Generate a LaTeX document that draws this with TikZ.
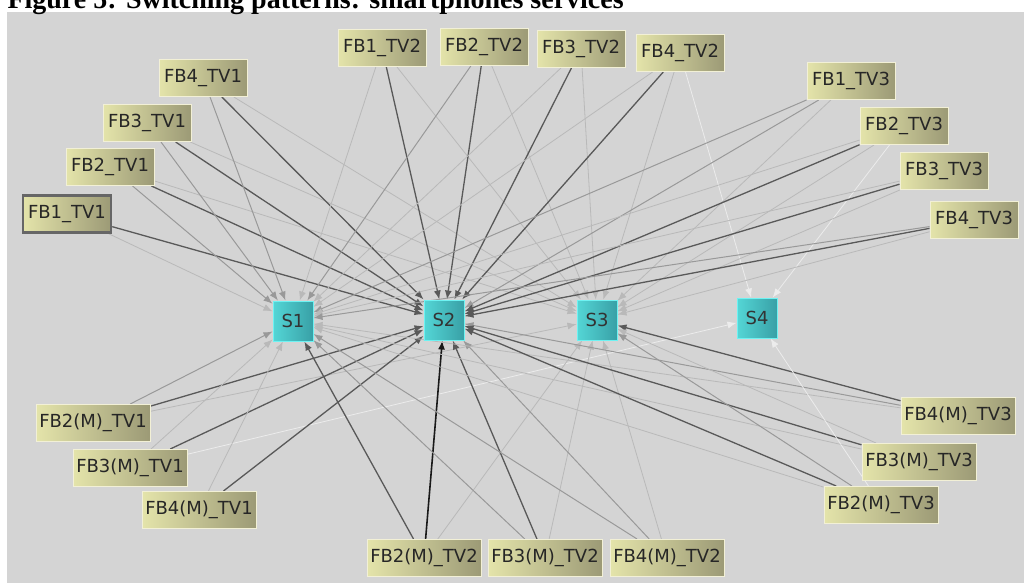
\documentclass[tikz,border=0pt]{standalone}
\usepackage{fontspec}
\setmainfont{DejaVu Sans}
\newfontfamily\titlefont{Liberation Serif}
\usepackage{tikz}
\usetikzlibrary{arrows.meta}
\pgfdeclarelayer{back}
\pgfdeclarelayer{links}
\pgfsetlayers{back,links,main}
\definecolor{panel}{RGB}{212,212,212}
\definecolor{fblight}{RGB}{228,228,170}
\definecolor{fbdark}{RGB}{156,154,118}
\definecolor{fbedge}{RGB}{242,240,214}
\definecolor{svlight}{RGB}{84,214,214}
\definecolor{svdark}{RGB}{56,160,166}
\definecolor{svedge}{RGB}{110,242,242}
\tikzset{fb/.style = {draw = fbedge, line width = 1pt, left color = fblight, right color = fbdark,
                      minimum width = 88, minimum height = 37, inner sep = 0,
                      font = \fontsize{18}{20}\selectfont, text = black!85}}
\tikzset{fbm/.style = {fb, minimum width = 114}}
\tikzset{sv/.style = {draw = svedge, line width = 1pt, left color = svlight, right color = svdark,
                      minimum size = 40, inner sep = 0, font = \fontsize{18}{20}\selectfont, text = black!80}}
\tikzset{lk/.style = {-{Latex[length = 9pt, width = 7pt]}}}
\tikzset{w0/.style = {lk, white!85!gray, line width = 0.8pt}}
\tikzset{w1/.style = {lk, gray!55, line width = 0.8pt}}
\tikzset{w2/.style = {lk, gray!80, line width = 1pt}}
\tikzset{w3/.style = {lk, black!65, line width = 1.3pt}}
\tikzset{w4/.style = {lk, black!90, line width = 1.6pt}}

\begin{document}
\begin{tikzpicture}[x = 1pt, y = -1pt]
    \useasboundingbox (0, 0) rectangle (1024, 583);
    \begin{pgfonlayer}{back}
      \fill [white] (0, 0) rectangle (1024, 583);
      \fill [panel] (7, 12) rectangle (1024, 583);
    \end{pgfonlayer}
    \node [anchor = base west, font = \titlefont\bfseries\fontsize{28}{30}\selectfont] (title) at (4, 9) {Figure 5: Switching patterns: smartphones services};

    % services
    \node [sv] (s1) at (293, 321) {S1};
    \node [sv] (s2) at (444, 320) {S2};
    \node [sv] (s3) at (597, 320) {S3};
    \node [sv] (s4) at (757, 318) {S4};

    % TV1
    \node [fb, draw = black!60, line width = 2.5pt] (f1t1) at (67, 214) {FB1\_TV1};
    \node [fb] (f2t1) at (110, 167) {FB2\_TV1};
    \node [fb] (f3t1) at (147, 123) {FB3\_TV1};
    \node [fb] (f4t1) at (203, 78) {FB4\_TV1};
    \node [fbm] (m2t1) at (93, 423) {FB2(M)\_TV1};
    \node [fbm] (m3t1) at (130, 468) {FB3(M)\_TV1};
    \node [fbm] (m4t1) at (199, 510) {FB4(M)\_TV1};

    % TV2
    \node [fb] (f1t2) at (382, 48) {FB1\_TV2};
    \node [fb] (f2t2) at (484, 47) {FB2\_TV2};
    \node [fb] (f3t2) at (581, 49) {FB3\_TV2};
    \node [fb] (f4t2) at (680, 53) {FB4\_TV2};
    \node [fbm] (m2t2) at (424, 558) {FB2(M)\_TV2};
    \node [fbm] (m3t2) at (545, 558) {FB3(M)\_TV2};
    \node [fbm] (m4t2) at (667, 558) {FB4(M)\_TV2};

    % TV3
    \node [fb] (f1t3) at (851, 81) {FB1\_TV3};
    \node [fb] (f2t3) at (904, 126) {FB2\_TV3};
    \node [fb] (f3t3) at (944, 171) {FB3\_TV3};
    \node [fb] (f4t3) at (974, 220) {FB4\_TV3};
    \node [fbm] (m4t3) at (958, 416) {FB4(M)\_TV3};
    \node [fbm] (m3t3) at (919, 462) {FB3(M)\_TV3};
    \node [fbm] (m2t3) at (881, 505) {FB2(M)\_TV3};

    \begin{pgfonlayer}{links}
      \draw (f1t1) edge [w1] (s1) edge [w3] (s2);
      \draw (f2t1) edge [w2] (s1) edge [w3] (s2) edge [w1] (s3);
      \draw (f3t1) edge [w2] (s1) edge [w3] (s2) edge [w1] (s3);
      \draw (f4t1) edge [w2] (s1) edge [w3] (s2) edge [w1] (s3);
      \draw (f1t2) edge [w1] (s1) edge [w3] (s2) edge [w1] (s3);
      \draw (f2t2) edge [w2] (s1) edge [w3] (s2) edge [w1] (s3);
      \draw (f3t2) edge [w1] (s1) edge [w3] (s2) edge [w1] (s3);
      \draw (f4t2) edge [w1] (s1) edge [w3] (s2) edge [w1] (s3) edge [w0] (s4);
      \draw (f1t3) edge [w2] (s1) edge [w2] (s2) edge [w1] (s3);
      \draw (f2t3) edge [w1] (s1) edge [w3] (s2) edge [w1] (s3) edge [w0] (s4);
      \draw (f3t3) edge [w1] (s1) edge [w3] (s2) edge [w1] (s3);
      \draw (f4t3) edge [w2] (s1) edge [w3] (s2) edge [w1] (s3);
      \draw (m2t1) edge [w2] (s1) edge [w3] (s2) edge [w1] (s3);
      \draw (m3t1) edge [w1] (s1) edge [w3] (s2) edge [w0] (s4);
      \draw (m4t1) edge [w1] (s1) edge [w3] (s2);
      \draw (m2t2) edge [w3] (s1) edge [w4] (s2) edge [w1] (s3);
      \draw (m3t2) edge [w2] (s1) edge [w3] (s2) edge [w1] (s3);
      \draw (m4t2) edge [w2] (s1) edge [w2] (s2) edge [w1] (s3);
      \draw (m4t3) edge [w1] (s1) edge [w2] (s2) edge [w3] (s3);
      \draw (m3t3) edge [w1] (s1) edge [w3] (s2) edge [w1] (s3);
      \draw (m2t3) edge [w1] (s1) edge [w3] (s2) edge [w2] (s3) edge [w0] (s4);
    \end{pgfonlayer}
  \end{tikzpicture}
\end{document}
